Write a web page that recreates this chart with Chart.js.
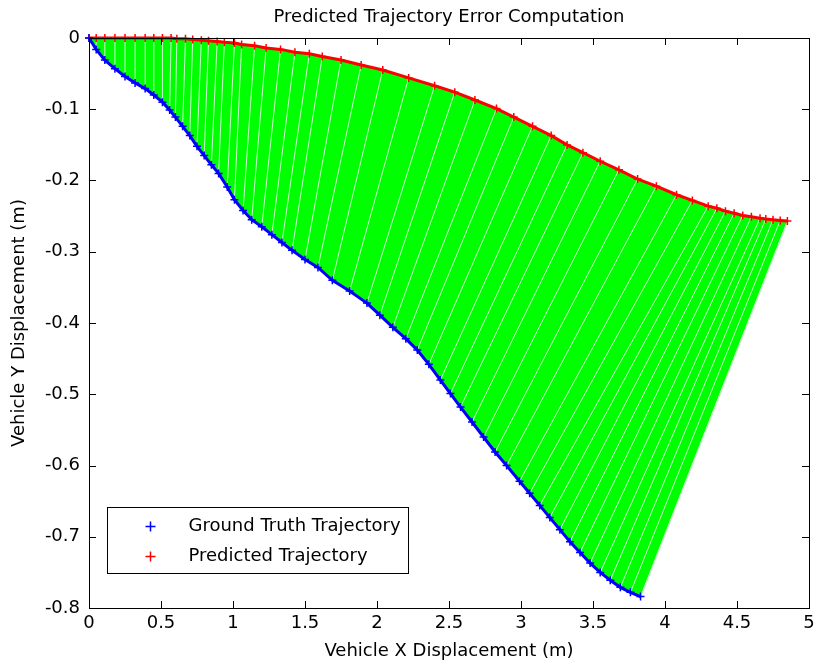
<!DOCTYPE html>
<html>
<head>
<meta charset="utf-8">
<script src="https://cdn.jsdelivr.net/npm/chart.js@4.4.1/dist/chart.umd.min.js"></script>
<style>
  body { margin: 0; background: #fff; }
</style>
</head>
<body>
<canvas id="trajChart" width="815" height="667"></canvas>
<script>
// ground truth trajectory (blue)
const truthX = [0.00, 0.05, 0.11, 0.18, 0.25, 0.32, 0.39, 0.45, 0.51, 0.56, 0.60, 0.65, 0.70, 0.75, 0.80, 0.85, 0.90, 0.96, 1.01, 1.07, 1.13, 1.20, 1.27, 1.34, 1.41, 1.50, 1.59, 1.69, 1.81, 1.93, 2.02, 2.11, 2.20, 2.28, 2.36, 2.44, 2.51, 2.58, 2.66, 2.74, 2.82, 2.90, 2.99, 3.06, 3.13, 3.20, 3.27, 3.34, 3.41, 3.48, 3.55, 3.62, 3.69, 3.76, 3.83];
const truthY = [0.000, -0.016, -0.031, -0.043, -0.054, -0.063, -0.071, -0.080, -0.090, -0.101, -0.111, -0.124, -0.137, -0.152, -0.165, -0.178, -0.190, -0.209, -0.227, -0.242, -0.255, -0.265, -0.276, -0.287, -0.298, -0.311, -0.322, -0.340, -0.355, -0.372, -0.389, -0.406, -0.422, -0.438, -0.458, -0.480, -0.499, -0.518, -0.539, -0.560, -0.581, -0.600, -0.622, -0.639, -0.656, -0.673, -0.690, -0.707, -0.722, -0.737, -0.750, -0.761, -0.771, -0.778, -0.784];

// predicted trajectory (red), same time steps as the ground truth
const predX = [0.00, 0.05, 0.11, 0.18, 0.25, 0.32, 0.39, 0.45, 0.51, 0.57, 0.61, 0.67, 0.72, 0.78, 0.83, 0.89, 0.94, 1.01, 1.06, 1.15, 1.23, 1.33, 1.43, 1.53, 1.62, 1.75, 1.89, 2.04, 2.22, 2.40, 2.54, 2.68, 2.83, 2.95, 3.08, 3.21, 3.32, 3.43, 3.55, 3.68, 3.81, 3.94, 4.08, 4.19, 4.30, 4.36, 4.42, 4.48, 4.54, 4.60, 4.66, 4.70, 4.75, 4.80, 4.85];
const predY = [0.000, 0.000, 0.000, 0.000, 0.000, 0.000, 0.000, 0.000, 0.000, 0.000, -0.001, -0.001, -0.002, -0.003, -0.004, -0.005, -0.006, -0.007, -0.009, -0.011, -0.014, -0.016, -0.020, -0.022, -0.026, -0.031, -0.038, -0.045, -0.056, -0.067, -0.076, -0.087, -0.099, -0.111, -0.124, -0.137, -0.150, -0.161, -0.173, -0.185, -0.198, -0.208, -0.220, -0.228, -0.236, -0.239, -0.243, -0.246, -0.249, -0.251, -0.253, -0.254, -0.255, -0.256, -0.257];

const xTicks = [0, 0.5, 1, 1.5, 2, 2.5, 3, 3.5, 4, 4.5, 5];
const yTicks = [0, -0.1, -0.2, -0.3, -0.4, -0.5, -0.6, -0.7, -0.8];

const FONT = "'DejaVu Sans', Verdana, sans-serif";
const FSIZE = 18;

const truthPts = truthX.map((x, i) => ({ x: x, y: truthY[i] }));
const predPts = predX.map((x, i) => ({ x: x, y: predY[i] }));

// green error segments between matching points
const errorSegs = [];
truthPts.forEach((p, i) => {
  errorSegs.push(p, predPts[i], { x: predPts[i].x, y: null });
});

// region swept by the error segments
const errorArea = truthPts.concat(predPts.slice().reverse());

function fmt(v) {
  return String(Number(v.toFixed(1)));
}

// box round the plot with inward ticks, like MATLAB
const boxPlugin = {
  id: "boxPlugin",
  afterDraw(chart) {
    const ctx = chart.ctx;
    const a = chart.chartArea;
    const xs = chart.scales.x;
    const ys = chart.scales.y;
    ctx.save();
    ctx.strokeStyle = "#000";
    ctx.lineWidth = 1;
    ctx.strokeRect(Math.round(a.left) + 0.5, Math.round(a.top) + 0.5, Math.round(a.right - a.left), Math.round(a.bottom - a.top));
    ctx.beginPath();
    xTicks.forEach((v) => {
      const px = Math.round(xs.getPixelForValue(v)) + 0.5;
      ctx.moveTo(px, a.bottom);
      ctx.lineTo(px, a.bottom - 7);
      ctx.moveTo(px, a.top);
      ctx.lineTo(px, a.top + 7);
    });
    yTicks.forEach((v) => {
      const py = Math.round(ys.getPixelForValue(v)) + 0.5;
      ctx.moveTo(a.left, py);
      ctx.lineTo(a.left + 7, py);
      ctx.moveTo(a.right, py);
      ctx.lineTo(a.right - 7, py);
    });
    ctx.stroke();

    // legend box in the lower left corner
    const lx = a.left + 18.5;
    const ly = Math.round(a.bottom) - 100.5;
    const lw = 301;
    const lh = 66;
    ctx.fillStyle = "#fff";
    ctx.fillRect(lx, ly, lw, lh);
    ctx.strokeRect(lx, ly, lw, lh);
    const items = [
      { color: "#0000ff", text: "Ground Truth Trajectory" },
      { color: "#ff0000", text: "Predicted Trajectory" },
    ];
    ctx.font = FSIZE + "px " + FONT;
    ctx.textBaseline = "middle";
    items.forEach((it, i) => {
      const cy = ly + 19 + i * 30;
      const cx = lx + 43;
      ctx.strokeStyle = it.color;
      ctx.lineWidth = 1.5;
      ctx.beginPath();
      ctx.moveTo(cx - 5, cy);
      ctx.lineTo(cx + 5, cy);
      ctx.moveTo(cx, cy - 5);
      ctx.lineTo(cx, cy + 5);
      ctx.stroke();
      ctx.fillStyle = "#000";
      ctx.fillText(it.text, lx + 81, cy);
    });
    ctx.restore();
  },
};

const ctx = document.getElementById("trajChart").getContext("2d");
new Chart(ctx, {
  type: "scatter",
  data: {
    datasets: [
      {
        label: "Ground Truth Trajectory",
        data: truthPts,
        showLine: true,
        borderColor: "#0000ff",
        borderWidth: 3,
        pointStyle: "cross",
        pointRadius: 4,
        pointBorderWidth: 1.5,
        pointBorderColor: "#0000ff",
        clip: false,
      },
      {
        label: "Predicted Trajectory",
        data: predPts,
        showLine: true,
        borderColor: "#ff0000",
        borderWidth: 3,
        pointStyle: "cross",
        pointRadius: 4,
        pointBorderWidth: 1.5,
        pointBorderColor: "#ff0000",
        clip: false,
      },
      {
        label: "error segments",
        data: errorSegs,
        showLine: true,
        spanGaps: false,
        borderColor: "rgba(255,255,255,0.8)",
        borderWidth: 1,
        pointRadius: 0,
      },
      {
        label: "error area",
        data: errorArea,
        showLine: true,
        fill: "shape",
        backgroundColor: "#00ff00",
        borderColor: "#00ff00",
        borderWidth: 1,
        pointRadius: 0,
      },
    ],
  },
  options: {
    responsive: false,
    animation: false,
    layout: { padding: { left: 0, right: 6, top: 0, bottom: 0 } },
    plugins: {
      legend: { display: false },
      tooltip: { enabled: false },
      title: {
        display: true,
        fullSize: false,
        text: "Predicted Trajectory Error Computation",
        color: "#000",
        font: { family: FONT, size: FSIZE, weight: "normal" },
        padding: { top: 7, bottom: 9.4 },
      },
    },
    scales: {
      x: {
        type: "linear",
        min: 0,
        max: 5,
        afterBuildTicks: (s) => { s.ticks = xTicks.map((v) => ({ value: v })); },
        afterFit: (s) => { s.height = 59; s.paddingLeft = 0; s.paddingRight = 0; },
        grid: { display: false, drawTicks: false },
        border: { display: false },
        ticks: {
          color: "#000",
          padding: 5,
          font: { family: FONT, size: FSIZE },
          callback: (v) => fmt(v),
          maxRotation: 0,
        },
        title: {
          display: true,
          text: "Vehicle X Displacement (m)",
          color: "#000",
          font: { family: FONT, size: FSIZE },
          padding: { top: 0, bottom: 5 },
        },
      },
      y: {
        type: "linear",
        min: -0.8,
        max: 0,
        afterBuildTicks: (s) => { s.ticks = yTicks.map((v) => ({ value: v })); },
        afterFit: (s) => { s.width = 89; s.paddingTop = 0; s.paddingBottom = 0; },
        grid: { display: false, drawTicks: false },
        border: { display: false },
        ticks: {
          color: "#000",
          padding: 9,
          font: { family: FONT, size: FSIZE },
          callback: (v) => fmt(v),
        },
        title: {
          display: true,
          text: "Vehicle Y Displacement (m)",
          color: "#000",
          font: { family: FONT, size: FSIZE },
          padding: { top: 9, bottom: 0 },
        },
      },
    },
  },
  plugins: [boxPlugin],
});
</script>
</body>
</html>
